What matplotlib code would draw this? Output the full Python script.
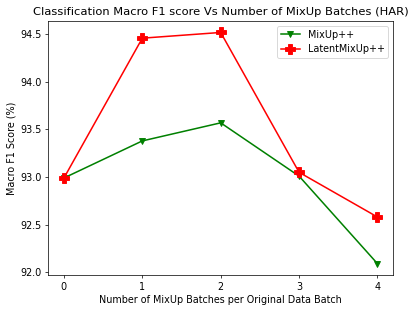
import matplotlib
matplotlib.use("Agg")
import matplotlib.pyplot as plt

batches = [0, 1, 2, 3, 4]
mixup_pp = [92.99, 93.38, 93.57, 93.01, 92.09]
latent_mixup_pp = [92.99, 94.46, 94.52, 93.05, 92.58]

plt.rcParams["font.size"] = 10.6

fig = plt.figure(figsize=(6.4, 4.8), dpi=65)
ax = fig.add_subplot(111)
fig.subplots_adjust(left=0.116, right=0.945, top=0.933, bottom=0.118)

ax.plot(batches, mixup_pp, color="green", marker="v", markersize=6.5, linewidth=1.7, label="MixUp++")
ax.plot(batches, latent_mixup_pp, color="red", marker="P", markersize=10.5, linewidth=1.7, label="LatentMixUp++")

ax.set_xticks(batches)
ax.set_yticks([92.0, 92.5, 93.0, 93.5, 94.0, 94.5])
ax.set_title("Classification Macro F1 score Vs Number of MixUp Batches (HAR)")
ax.set_xlabel("Number of MixUp Batches per Original Data Batch")
ax.set_ylabel("Macro F1 Score (%)")
ax.legend(loc="upper right")

fig.savefig("out.png", dpi=65)
